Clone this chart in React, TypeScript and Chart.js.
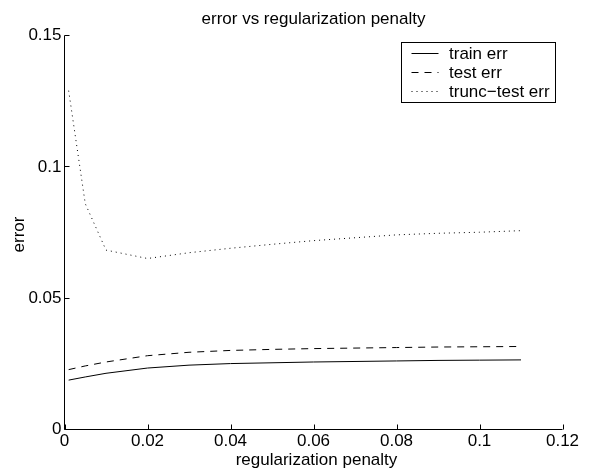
import React, { useEffect, useRef } from "react";
import { Chart, registerables } from "chart.js";

Chart.register(...registerables);

const xValues = [0.001, 0.005, 0.01, 0.02, 0.03, 0.04, 0.05, 0.06, 0.07, 0.08, 0.09, 0.1, 0.11];
const trainErr = [0.0188, 0.02, 0.0214, 0.0234, 0.0245, 0.0251, 0.0254, 0.0257, 0.0259, 0.0261, 0.0263, 0.0264, 0.0265];
const testErr = [0.0228, 0.0242, 0.0257, 0.0281, 0.0294, 0.0301, 0.0305, 0.0308, 0.031, 0.0312, 0.0314, 0.0315, 0.0316];
const truncTestErr = [0.129, 0.086, 0.0683, 0.0651, 0.0673, 0.069, 0.0705, 0.0719, 0.073, 0.0741, 0.0747, 0.0751, 0.0757];
const seriesLabels = ["train err", "test err", "trunc\u2212test err"];
const xTickLabels = ["0", "0.02", "0.04", "0.06", "0.08", "0.1", "0.12"];
const yTickLabels = ["0", "0.05", "0.1", "0.15"];
const titleText = "error vs regularization penalty";
const xAxisTitle = "regularization penalty";
const yAxisTitle = "error";

const FONT_FAMILY = "'Liberation Sans', Arial, Helvetica, sans-serif";
const FONT_SIZE = 17;

const decorPlugin = {
  id: "decor",
  afterDraw(chart: any) {
    const ctx = chart.ctx;
    const area = chart.chartArea;
    const xs = chart.scales.x;
    const ys = chart.scales.y;
    ctx.save();
    ctx.strokeStyle = "#000";
    ctx.lineWidth = 1;
    ctx.setLineDash([]);
    // axis lines
    ctx.beginPath();
    ctx.moveTo(area.left, area.top);
    ctx.lineTo(area.left, area.bottom);
    ctx.lineTo(area.right, area.bottom);
    ctx.stroke();
    // inward ticks
    ctx.beginPath();
    xs.ticks.forEach((t: any) => {
      const px = Math.round(xs.getPixelForValue(t.value)) + 0.5;
      ctx.moveTo(px, area.bottom);
      ctx.lineTo(px, area.bottom - 5);
    });
    ys.ticks.forEach((t: any) => {
      const py = Math.round(ys.getPixelForValue(t.value) - 0.5) + 0.5;
      ctx.moveTo(area.left, py);
      ctx.lineTo(area.left + 5, py);
    });
    ctx.stroke();

    ctx.fillStyle = "#000";
    ctx.font = `${FONT_SIZE}px ${FONT_FAMILY}`;
    // title
    ctx.textAlign = "center";
    ctx.textBaseline = "alphabetic";
    ctx.fillText(titleText, (area.left + area.right) / 2, 23.5);
    // x axis title
    ctx.fillText(xAxisTitle, (area.left + area.right) / 2 + 3, 465);
    // y axis title
    ctx.save();
    ctx.translate(23.5, (area.top + area.bottom) / 2 + 2);
    ctx.rotate(-Math.PI / 2);
    ctx.fillText(yAxisTitle, 0, 0);
    ctx.restore();

    // legend
    const bx = 401.5, by = 42.5, bw = 154, bh = 60;
    ctx.strokeStyle = "#000";
    ctx.lineWidth = 1;
    ctx.strokeRect(bx, by, bw, bh);
    ctx.textAlign = "left";
    const rowY = [53.5, 72.5, 91.5];
    chart.data.datasets.forEach((ds: any, i: number) => {
      ctx.save();
      ctx.strokeStyle = ds.borderColor;
      ctx.lineWidth = 1;
      ctx.setLineDash(ds.borderDash || []);
      ctx.beginPath();
      ctx.moveTo(411.5, rowY[i]);
      ctx.lineTo(438.5, rowY[i]);
      ctx.stroke();
      ctx.restore();
      ctx.textBaseline = "middle";
      ctx.fillText(ds.label, 449, rowY[i] + 1);
    });
    ctx.restore();
  },
};

function fmt(v: number): string {
  return String(Number(v.toFixed(4)));
}

export default function App() {
  const ref = useRef<HTMLCanvasElement | null>(null);
  useEffect(() => {
    if (!ref.current) return;
    const mk = (ys: number[]) => xValues.map((x, i) => ({ x, y: ys[i] }));
    const chart = new Chart(ref.current, {
      type: "line",
      data: {
        datasets: [
          { label: seriesLabels[0], data: mk(trainErr), borderColor: "#000", borderWidth: 1, pointRadius: 0, fill: false, tension: 0 },
          { label: seriesLabels[1], data: mk(testErr), borderColor: "#000", borderWidth: 1, borderDash: [7, 6], pointRadius: 0, fill: false, tension: 0 },
          { label: seriesLabels[2], data: mk(truncTestErr), borderColor: "#000", borderWidth: 1, borderDash: [1, 4], pointRadius: 0, fill: false, tension: 0 },
        ],
      },
      options: {
        animation: false,
        responsive: false,
        devicePixelRatio: 1,
        layout: { padding: { left: 0, right: 29.5, top: 35.5, bottom: 0 } },
        plugins: { legend: { display: false }, title: { display: false }, tooltip: { enabled: false } },
        events: [],
        scales: {
          x: {
            type: "linear",
            min: 0,
            max: 0.12,
            grid: { display: false, drawTicks: false },
            border: { display: false },
            afterFit: (s: any) => { s.height = 45.5; },
            ticks: {
              stepSize: 0.02,
              padding: 2,
              color: "#000",
              font: { family: FONT_FAMILY, size: FONT_SIZE },
              maxRotation: 0,
              autoSkip: false,
              callback: (v: any, i: number) => xTickLabels[i] ?? fmt(Number(v)),
            },
          },
          y: {
            type: "linear",
            min: 0,
            max: 0.15,
            grid: { display: false, drawTicks: false },
            border: { display: false },
            afterFit: (s: any) => { s.width = 64.5; },
            ticks: {
              stepSize: 0.05,
              padding: 3,
              color: "#000",
              font: { family: FONT_FAMILY, size: FONT_SIZE },
              autoSkip: false,
              callback: (v: any, i: number) => yTickLabels[i] ?? fmt(Number(v)),
            },
          },
        },
      },
      plugins: [decorPlugin],
    } as any);
    return () => chart.destroy();
  }, []);
  return (
    <div style={{ position: "fixed", left: 0, top: 0, width: 592, height: 475, background: "#fff" }}>
      <canvas ref={ref} width={592} height={475} style={{ width: 592, height: 475, display: "block" }} />
    </div>
  );
}
